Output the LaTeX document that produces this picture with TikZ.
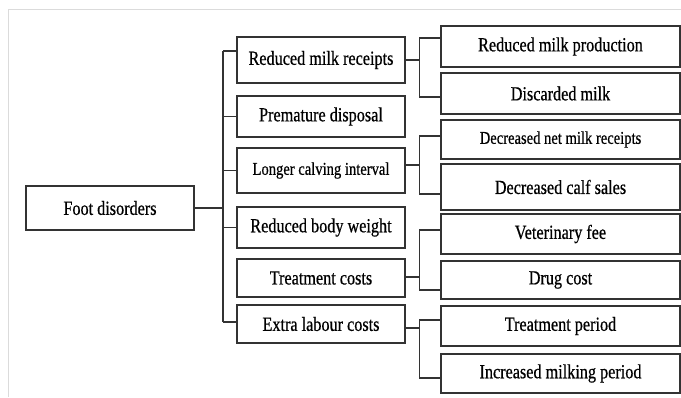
\documentclass[tikz,border=0pt]{standalone}
\usepackage{fontspec}
\setmainfont[FakeStretch=0.81, FakeBold=0.6]{Liberation Serif}
\usepackage{tikz}
\definecolor{frameGray}{rgb}{0.86, 0.86, 0.86}
\definecolor{boxLine}{rgb}{0.2, 0.2, 0.2}

\begin{document}
\begin{tikzpicture}[x=1pt, y=-1pt,
        box/.style={draw=boxLine, line width=1.4pt, inner sep=0pt, align=center,
            font=\fontsize{20}{22}\selectfont},
        smalltext/.style={font=\fontsize{18}{20}\selectfont},
        midbox/.style={box, minimum width=168pt},
        rightbox/.style={box, minimum width=239pt},
        link/.style={draw=boxLine, line width=1.4pt}]
            \useasboundingbox (0,0) rectangle (681,397);
            % page frame
            \draw[frameGray, line width=1pt] (8.5,397) -- (8.5,9.5) -- (681,9.5);

            % root
            \node[box, minimum width=168pt, minimum height=44pt] (foot) at (110,208) {Foot disorders};

            % middle column
            \node[midbox, minimum height=46pt] (rmr) at (321,60) {Reduced milk receipts};
            \node[midbox, minimum height=41pt] (pd) at (321,116.5) {Premature disposal};
            \node[midbox, smalltext, minimum height=45pt] (lci) at (321,170.5) {Longer calving interval};
            \node[midbox, minimum height=41pt] (rbw) at (321,227.5) {Reduced body weight};
            \node[midbox, minimum height=38pt] (tc) at (321,278) {Treatment costs};
            \node[midbox, minimum height=38pt] (elc) at (321,324) {Extra labour costs};

            % right column
            \node[rightbox, minimum height=41pt] (rmp) at (560.5,46.5) {Reduced milk production};
            \node[rightbox, minimum height=41pt] (dm) at (560.5,93.5) {Discarded milk};
            \node[rightbox, smalltext, minimum height=39pt] (dnmr) at (560.5,139.5) {Decreased net milk receipts};
            \node[rightbox, minimum height=46pt] (dcs) at (560.5,187) {Decreased calf sales};
            \node[rightbox, minimum height=40pt] (vf) at (560.5,234) {Veterinary fee};
            \node[rightbox, minimum height=38pt] (dc) at (560.5,280) {Drug cost};
            \node[rightbox, minimum height=40pt] (tp) at (560.5,326) {Treatment period};
            \node[rightbox, minimum height=39pt] (imp) at (560.5,373.5) {Increased milking period};

            % trunk
            \coordinate (trunkTop) at (223,51);
            \coordinate (trunkBot) at (223,322);
            \draw[link] (trunkTop) -- (trunkBot);
            \draw[link] (foot.east) -- (foot.east -| trunkTop);
            \draw[link] (trunkTop) -- (trunkTop -| rmr.west);
            \draw[link] (pd.west -| trunkTop) -- (pd.west);
            \draw[link] (lci.west -| trunkTop) -- (lci.west);
            \draw[link] (rbw.west -| trunkTop) -- (rbw.west);
            \draw[link] (trunkBot) -- (trunkBot -| elc.west);

            % forks to the right column
            \draw[link] (rmr.east) -- ++(14,0) coordinate (forkA);
            \draw[link] ([yshift=8.5pt]rmp.west) -| (forkA) |- ([yshift=-3.5pt]dm.west);

            \draw[link] ([yshift=5.5pt]lci.east) -- ++(14,0) coordinate (forkB);
            \draw[link] ([yshift=3.5pt]dnmr.west) -| (forkB) |- ([yshift=-7pt]dcs.west);

            \draw[link] ([yshift=1pt]tc.east) -- ++(14,0) coordinate (forkC);
            \draw[link] ([yshift=4pt]vf.west) -| (forkC) |- ([yshift=-10pt]dc.west);

            \draw[link] ([yshift=-4pt]elc.east) -- ++(14,0) coordinate (forkD);
            \draw[link] ([yshift=6pt]tp.west) -| (forkD) |- ([yshift=-4.5pt]imp.west);

\end{tikzpicture}
\end{document}
